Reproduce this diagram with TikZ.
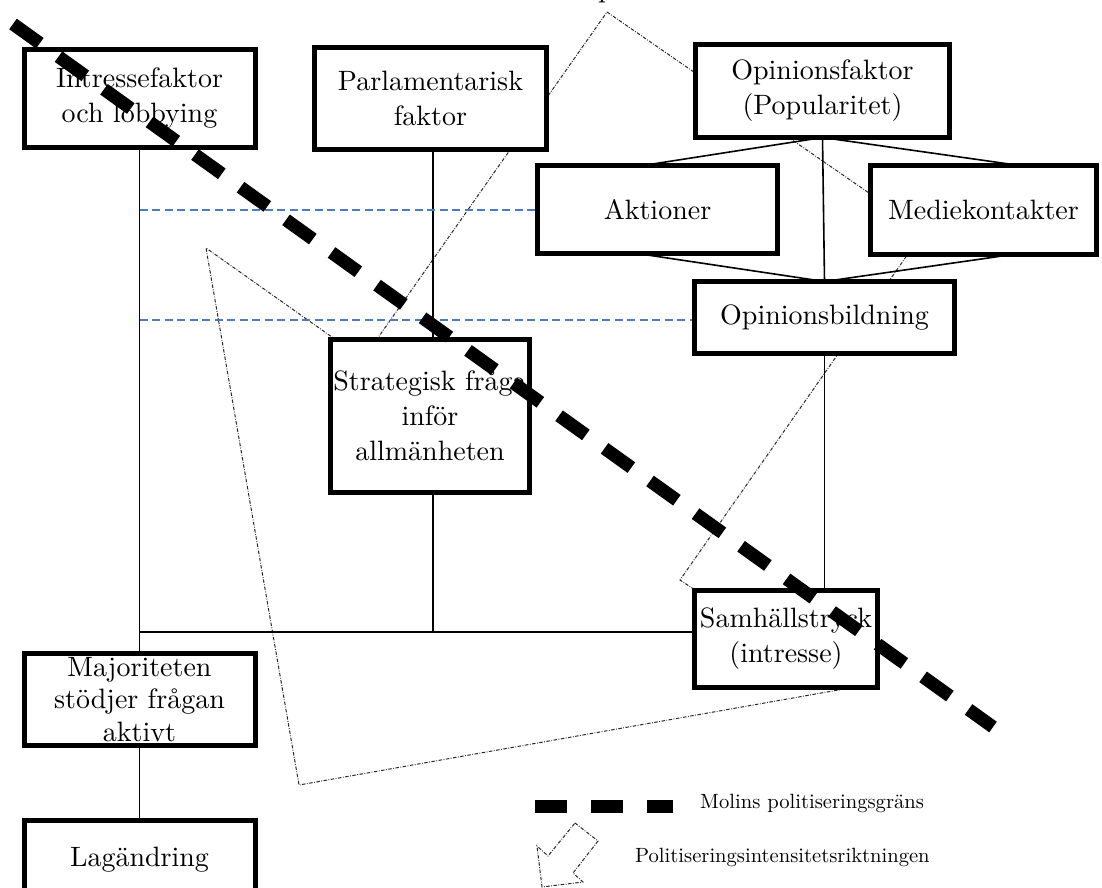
\documentclass[tikz,border=0pt]{standalone}
\usepackage{fontspec}
\setmainfont{lmroman10-regular.otf}
\usetikzlibrary{calc,backgrounds}
\definecolor{dashblue}{RGB}{74,126,187}
\definecolor{dotgray}{RGB}{40,40,40}
\tikzset{
  box/.style={draw, line width=5pt, fill=white, align=center, inner sep=0pt, outer sep=0pt,
    font=\fontsize{28}{35}\selectfont},
  conn/.style={line width=1.6pt},
  blueline/.style={dashblue, line width=1.5pt, dash pattern=on 8pt off 4.5pt},
  dirarrow/.style={dotgray, line width=1pt, dash pattern=on 3.5pt off 1.5pt on 0.8pt off 1.5pt, line join=miter},
  molin/.style={line width=13pt, dash pattern=on 33pt off 23pt},
  legtext/.style={font=\fontsize{20.6}{25}\selectfont, inner sep=0pt, anchor=base west}
}
\begin{document}
\begin{tikzpicture}[x=1pt,y=-1pt]
\useasboundingbox (0,0) rectangle (1102,888);

% clipped label at top
\node[font=\fontsize{28}{35}\selectfont, inner sep=0pt, anchor=base] (ptop) at (606,-2.5) {p};

% boxes
\node[box, minimum width=231pt, minimum height=98pt] (intr) at (139.5,98.5) {Intressefaktor\\och lobbying};
\node[box, minimum width=232pt, minimum height=102pt] (parl) at (430.5,98.5) {Parlamentarisk\\faktor};
\node[box, minimum width=254pt, minimum height=93pt] (opf) at (822.5,91) {Opinionsfaktor\\(Popularitet)};
\node[box, minimum width=240pt, minimum height=88pt] (akt) at (657.5,209.5) {Aktioner};
\node[box, minimum width=226pt, minimum height=89pt] (med) at (983.5,210) {Mediekontakter};
\node[box, minimum width=260pt, minimum height=72pt] (opb) at (824.5,317.5) {Opinionsbildning};
\node[box, minimum width=199pt, minimum height=153pt] (strat) at (430,416) {Strategisk fråga\\inför\\allmänheten};
\node[box, minimum width=183pt, minimum height=97pt] (samh) at (786,639) {Samhällstryck\\(intresse)};
\node[box, minimum width=231pt, minimum height=92pt, font=\fontsize{28}{32.5}\selectfont] (maj) at (139.5,699.5) {Majoriteten\\stödjer frågan\\aktivt};
\node[box, minimum width=231pt, minimum height=80pt] (lag) at (139.5,860) {Lagändring};

\coordinate (hj) at (139.5,632);
\coordinate (b1) at (139.5,210);
\coordinate (b2) at (139.5,320);
\coordinate (vx) at (433,0);

\begin{scope}[on background layer]
  % direction arrow (dash-dot block arrow), behind the boxes
  \coordinate (A) at (607,12);
  \coordinate (C) at (924,231);
  \coordinate (D) at (680,580);
  \coordinate (E) at (844,689);
  \coordinate (T) at (299,785);
  \coordinate (F) at (206,248);
  \coordinate (G) at (363,359);
  \draw[dirarrow] (A) -- (C) -- (D) -- (E) -- (T) -- (F) -- (G) -- cycle;

  % connectors
  \draw[conn] (intr.south) -- (maj.north);
  \draw[conn] (hj) -- (hj -| samh.west);
  \draw[conn] (vx |- strat.north) -- (vx |- parl.south);
  \draw[conn] (vx |- strat.south) -- (vx |- hj);
  \draw[conn] (opf.south) -- (opb.north);
  \draw[conn] (opb.south) -- (opb.south |- samh.north);
  \draw[conn] (maj.south) -- (lag.north);
  \draw[conn] (opf.south) -- ($(akt.north west)!0.44!(akt.north east)$);
  \draw[conn] (opf.south) -- ($(med.north west)!0.66!(med.north east)$);
  \draw[conn] (opb.north) -- ($(akt.south west)!0.416!(akt.south east)$);
  \draw[conn] (opb.north) -- ($(med.south west)!0.628!(med.south east)$);

  % blue dashed guides
  \draw[blueline] (b1) -- (b1 -| akt.west);
  \draw[blueline] (b2) -- (b2 -| opb.west);
\end{scope}

% Molin's boundary (on top)
\coordinate (m1) at (13,24);
\coordinate (m2) at (993,727);
\draw[molin] (m1) -- (m2);

% legend
\coordinate (l1) at (535,806.5);
\coordinate (l2) at (673,806.5);
\draw[molin, dash pattern=on 32pt off 24pt] (l1) -- (l2);
\node[legtext] (lt1) at (700,808) {Molins politiseringsgräns};
\coordinate (a1) at (575,823);
\coordinate (a2) at (598,841);
\coordinate (a3) at (573,873);
\coordinate (a4) at (583,882);
\coordinate (a5) at (542,887);
\coordinate (a6) at (537,846);
\coordinate (a7) at (548,856);
\draw[dirarrow] (a1) -- (a2) -- (a3) -- (a4) -- (a5) -- (a6) -- (a7) -- cycle;
\node[legtext] (lt2) at (635,862) {Politiseringsintensitetsriktningen};
\end{tikzpicture}
\end{document}
